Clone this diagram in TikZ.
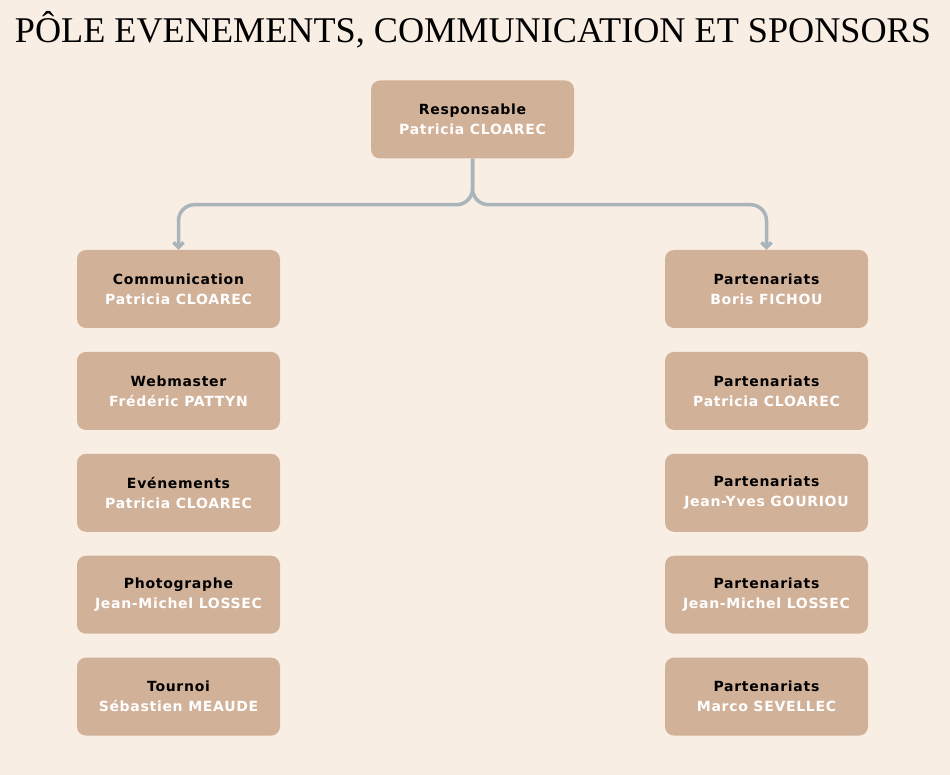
\documentclass[tikz,border=0pt]{standalone}
\usepackage{fontspec}
\setmainfont{DejaVu Sans}
\newfontfamily\titlefont{Liberation Serif}
\newfontfamily\rolefont[LetterSpace=5]{DejaVu Sans}
\usetikzlibrary{positioning,arrows.meta}
\definecolor{bgcream}{HTML}{F8EEE4}
\definecolor{boxtan}{HTML}{D2B199}
\definecolor{linkgrey}{HTML}{A9B5BB}
\tikzset{
	role/.style={draw=none,fill=boxtan,rounded corners=9pt,minimum width=203pt,minimum height=78pt,align=center,font=\rolefont\bfseries\fontsize{14}{20}\selectfont},
	link/.style={draw=linkgrey,line width=3.5pt,rounded corners=16pt,-{Straight Barb[length=5pt,width=10pt]}}
}
\newcommand{\who}[2]{#1\\\textcolor{white}{#2}}
\begin{document}
\begin{tikzpicture}[x=1pt,y=-1pt]
	\fill[bgcream] (0,0) rectangle (950,775);
	\useasboundingbox (0,0) rectangle (950,775);
	\node (title) at (473,30) {\titlefont\fontsize{36.2}{36}\selectfont PÔLE EVENEMENTS, COMMUNICATION ET SPONSORS};

	\node[role] (resp) at (472.5,119.5) {\who{Responsable}{Patricia CLOAREC}};

	\node[role] (com) at (178.5,289) {\who{Communication}{Patricia CLOAREC}};
	\node[role,below=23.5pt of com] (web) {\who{Webmaster}{Frédéric PATTYN}};
	\node[role,below=23.5pt of web] (eve) {\who{Evénements}{Patricia CLOAREC}};
	\node[role,below=23.5pt of eve] (photo) {\who{Photographe}{Jean-Michel LOSSEC}};
	\node[role,below=23.5pt of photo] (tour) {\who{Tournoi}{Sébastien MEAUDE}};

	\node[role] (part1) at (766.5,289) {\who{Partenariats}{Boris FICHOU}};
	\node[role,below=23.5pt of part1] (part2) {\who{Partenariats}{Patricia CLOAREC}};
	\node[role,below=23.5pt of part2] (part3) {\who{Partenariats}{Jean-Yves GOURIOU}};
	\node[role,below=23.5pt of part3] (part4) {\who{Partenariats}{Jean-Michel LOSSEC}};
	\node[role,below=23.5pt of part4] (part5) {\who{Partenariats}{Marco SEVELLEC}};

	\draw[link] (resp.south) |- ++(-40,46) -| (com.north);
	\draw[link] (resp.south) |- ++(40,46) -| (part1.north);
\end{tikzpicture}
\end{document}
